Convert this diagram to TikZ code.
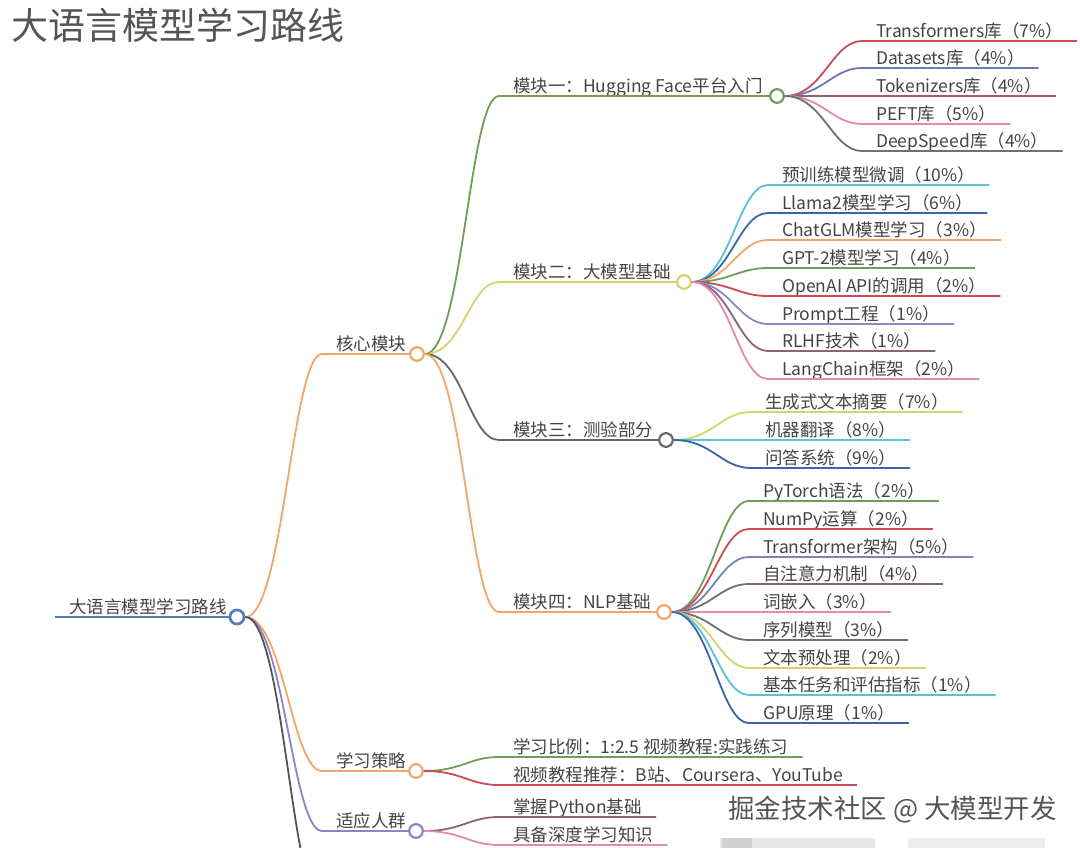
\documentclass[tikz,border=0pt]{standalone}
\usepackage{fontspec}
\setmainfont{Noto Sans CJK SC}
\definecolor{txt}{HTML}{444444}
\definecolor{ttl}{HTML}{555555}
\definecolor{wmk}{HTML}{555555}
\definecolor{cblue}{HTML}{4F7FB5}
\definecolor{corange}{HTML}{F2A668}
\definecolor{cpurple}{HTML}{8A86C6}
\definecolor{cdark}{HTML}{555555}
\definecolor{cgreen}{HTML}{6E9E58}
\definecolor{cyellow}{HTML}{D9D26A}
\definecolor{cgray}{HTML}{666666}
\definecolor{cred}{HTML}{CC4C55}
\definecolor{cindigo}{HTML}{6A78B4}
\definecolor{cmauve}{HTML}{A0606A}
\definecolor{cpink}{HTML}{E08AB4}
\definecolor{cmid}{HTML}{707070}
\definecolor{clight}{HTML}{5BBFE0}
\definecolor{cnavy}{HTML}{3A66A8}
\definecolor{cviolet}{HTML}{8A88CC}
\definecolor{cbrown}{HTML}{8A6670}
\definecolor{clime}{HTML}{D8D66A}
\definecolor{cslate}{HTML}{7A84B8}
\definecolor{cbgray}{HTML}{7A6A6A}
\begin{document}
\begin{tikzpicture}[x=1pt,y=-1pt,
  lab/.style={font=\fontsize{17.5}{20}\selectfont, text=txt, inner xsep=14pt, inner ysep=1pt, text height=13pt, text depth=2.5pt, anchor=south west},
  conn/.style={line width=1.8pt},
  dot/.style={circle, draw, fill=white, line width=1.8pt, minimum size=14pt, inner sep=0pt},
]
\useasboundingbox (0,0) rectangle (1080,848);
\clip (0,0) rectangle (1080,848);
\fill[white] (0,0) rectangle (1080,848);

\newcommand\leafline[3]{\draw[conn,#3] (#1.east) .. controls +(38,0) and +(-30,0) .. (#2.south west) -- (#2.south east);}
\newcommand\midline[4]{\draw[conn,#4] (#1.east) .. controls +(38,0) and +(-30,0) .. (#2.south west) -- (#3.west);}

% title
\node[anchor=west, font=\fontsize{37}{44}\selectfont, text=ttl, inner sep=0pt] (title) at (11,25) {大语言模型学习路线};

% root
\node[lab] (root) at (55,617) {大语言模型学习路线};
\node[dot, draw=cblue, minimum size=15pt] (rootC) at (237,617) {};

% level 1
\node[lab] (core) at (322,354) {核心模块};
\node[dot, draw=corange] (coreC) at (417,354) {};
\node[lab] (strat) at (322,771) {学习策略};
\node[dot, draw=corange] (stratC) at (416,771) {};
\node[lab] (crowd) at (322,831) {适应人群};
\node[dot, draw=cpurple] (crowdC) at (416,831) {};
\coordinate (hidden) at (322,905);

% level 2
\node[lab] (m1) at (499,96) {模块一：Hugging Face平台入门};
\node[dot, draw=cgreen] (m1C) at (777,96) {};
\node[lab] (m2) at (499,282) {模块二：大模型基础};
\node[dot, draw=cyellow] (m2C) at (684,282) {};
\node[lab] (m3) at (499,440) {模块三：测验部分};
\node[dot, draw=cgray] (m3C) at (666,440) {};
\node[lab] (m4) at (499,612) {模块四：NLP基础};
\node[dot, draw=corange] (m4C) at (664,612) {};

% leaves module 1
\node[lab] (a1) at (862,41) {Transformers库（7\%）};
\node[lab] (a2) at (862,68) {Datasets库（4\%）};
\node[lab] (a3) at (862,96) {Tokenizers库（4\%）};
\node[lab] (a4) at (862,124) {PEFT库（5\%）};
\node[lab] (a5) at (862,151) {DeepSpeed库（4\%）};
% leaves module 2
\node[lab] (b1) at (768,185) {预训练模型微调（10\%）};
\node[lab] (b2) at (768,213) {Llama2模型学习（6\%）};
\node[lab] (b3) at (768,240) {ChatGLM模型学习（3\%）};
\node[lab] (b4) at (768,268) {GPT-2模型学习（4\%）};
\node[lab] (b5) at (768,296) {OpenAI API的调用（2\%）};
\node[lab] (b6) at (768,324) {Prompt工程（1\%）};
\node[lab] (b7) at (768,351) {RLHF技术（1\%）};
\node[lab] (b8) at (768,379) {LangChain框架（2\%）};
% leaves module 3
\node[lab] (c1) at (751,412) {生成式文本摘要（7\%）};
\node[lab] (c2) at (751,440) {机器翻译（8\%）};
\node[lab] (c3) at (751,468) {问答系统（9\%）};
% leaves module 4
\node[lab] (d1) at (749,501) {PyTorch语法（2\%）};
\node[lab] (d2) at (749,529) {NumPy运算（2\%）};
\node[lab] (d3) at (749,557) {Transformer架构（5\%）};
\node[lab] (d4) at (749,584) {自注意力机制（4\%）};
\node[lab] (d5) at (749,612) {词嵌入（3\%）};
\node[lab] (d6) at (749,640) {序列模型（3\%）};
\node[lab] (d7) at (749,668) {文本预处理（2\%）};
\node[lab] (d8) at (749,695) {基本任务和评估指标（1\%）};
\node[lab] (d9) at (749,723) {GPU原理（1\%）};
% leaves strategy / crowd
\node[lab] (e1) at (499,757) {学习比例：1:2.5 视频教程:实践练习};
\node[lab] (e2) at (499,785) {视频教程推荐：B站、Coursera、YouTube};
\node[lab] (f1) at (499,817) {掌握Python基础};
\node[lab] (f2) at (499,845) {具备深度学习知识};

% connectors
\draw[conn,cblue] (root.south west) -- (rootC.west);
\midline{rootC}{core}{coreC}{corange}
\midline{rootC}{strat}{stratC}{corange}
\midline{rootC}{crowd}{crowdC}{cpurple}
\draw[conn,cdark] (rootC.east) .. controls +(38,0) and +(-30,0) .. (hidden);

\midline{coreC}{m1}{m1C}{cgreen}
\midline{coreC}{m2}{m2C}{cyellow}
\midline{coreC}{m3}{m3C}{cgray}
\midline{coreC}{m4}{m4C}{corange}

\leafline{m1C}{a1}{cred}
\leafline{m1C}{a2}{cindigo}
\leafline{m1C}{a3}{cmauve}
\leafline{m1C}{a4}{cpink}
\leafline{m1C}{a5}{cmid}

\leafline{m2C}{b1}{clight}
\leafline{m2C}{b2}{cnavy}
\leafline{m2C}{b3}{corange}
\leafline{m2C}{b4}{cgreen}
\leafline{m2C}{b5}{cred}
\leafline{m2C}{b6}{cviolet}
\leafline{m2C}{b7}{cbrown}
\leafline{m2C}{b8}{cpink}

\leafline{m3C}{c1}{clime}
\leafline{m3C}{c2}{clight}
\leafline{m3C}{c3}{cnavy}

\leafline{m4C}{d1}{cgreen}
\leafline{m4C}{d2}{cred}
\leafline{m4C}{d3}{cslate}
\leafline{m4C}{d4}{cbgray}
\leafline{m4C}{d5}{cpink}
\leafline{m4C}{d6}{cmid}
\leafline{m4C}{d7}{cyellow}
\leafline{m4C}{d8}{clight}
\leafline{m4C}{d9}{cnavy}

\leafline{stratC}{e1}{cgreen}
\leafline{stratC}{e2}{cred}
\leafline{crowdC}{f1}{cbrown}
\leafline{crowdC}{f2}{cpink}

% redraw dots on top
\foreach \n/\c in {rootC/cblue, coreC/corange, stratC/corange, crowdC/cpurple, m1C/cgreen, m2C/cyellow, m3C/cgray, m4C/corange}{
  \draw[line width=1.6pt, \c, fill=white] (\n) circle (6.5);
}

% watermark and blurred blocks
\node[anchor=west, font=\fontsize{26.5}{30}\selectfont, text=wmk, inner sep=0pt] (wm) at (728,810) {掘金技术社区 @ 大模型开发};
\fill[black!9] (720,838) rectangle (875,848);
\fill[black!18] (722,838) rectangle (752,848);
\fill[black!7] (908,838) rectangle (1045,848);
\end{tikzpicture}
\end{document}
